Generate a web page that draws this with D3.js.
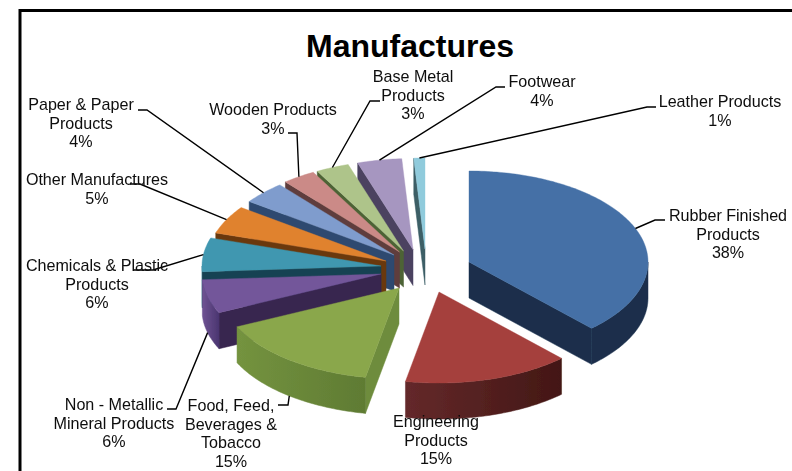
<!DOCTYPE html>
<html>
<head>
<meta charset="utf-8">
<script src="https://cdn.jsdelivr.net/npm/d3@7/dist/d3.min.js"></script>
<style>
html,body{margin:0;padding:0;background:#fff;overflow:hidden}
svg{display:block}
text{font-family:"Liberation Sans",Arial,sans-serif;fill:#0c0c0c}
</style>
</head>
<body>
<div id="chart"></div>
<script>
// ---------- data ----------
const title = "Manufactures";
const categories = [
  ["Rubber Finished","Products"],
  ["Engineering","Products"],
  ["Food, Feed,","Beverages &","Tobacco"],
  ["Non - Metallic","Mineral Products"],
  ["Chemicals & Plastic","Products"],
  ["Other Manufactures"],
  ["Paper & Paper","Products"],
  ["Wooden Products"],
  ["Base Metal","Products"],
  ["Footwear"],
  ["Leather Products"]
];
const shares = [38,15,15,6,6,5,4,3,3,4,1];

// ---------- styles ----------
const topColors  = ["#4470a6","#a53f3c","#8aa74b","#73569a","#3f97b0","#e0822f","#7f9ccd","#cb8a87","#aec48a","#a696c0","#90cbdc"];
const cutColors  = ["#1a2f4c","#4a1b18","#6e8c3c","#38254f","#174253","#6a390f","#2d4a70","#5f3d3c","#4e6336","#4b4360","#3c5e66"];
const wallFrom   = ["#1a2f4c","#64292a","#74933f","#6f5393","#2f7d93","#a55e20","#5c7aa8","#a06a68","#86a063","#7f7199","#6b9fae"];
const wallTo     = ["#1a2f4c","#431715","#5f7b33","#4a3570","#174253","#6a390f","#2d4a70","#5f3d3c","#4e6336","#4b4360","#3c5e66"];

// ---------- layout ----------
const W = 792, H = 471;
const center = [385,262], rx = 179, ry = 91, depth = 36;
// how far each exploded slice is pulled out of the pie centre
const explode = [[84,0],[54,30],[14,26],[-4,12],[-4,4],[1,-1],[9,-7],[14.5,-10],[18.5,-11],[28,-12.5],[40,-13]];
// label block centre x and first baseline
const labelX = [728,436,231,114,97,97,81,273,413,542,720];
const labelY = [221,427,411,410,271,185,110,115,82,87,107];
// leader lines: elbow, then end (none for Engineering)
const leaderElbow = [[655,220],null,[288,405],[176,409],[153,270],[140,184],[147,110],[297,133],[370,101],[496,87],[647,107]];
const leaderEnd   = [[665,220],null,[278,405],[167,409],[133,270],[130,184],[138,110],[288,133],[380,101],[505,87],[656,107]];
const fontSize = 16.1, lineGap = 18.7;

const svg = d3.select("#chart").append("svg").attr("width",W).attr("height",H);
const defs = svg.append("defs");
defs.append("filter").attr("id","softPie").append("feGaussianBlur").attr("stdDeviation",0.5);
defs.append("filter").attr("id","softText").attr("x","-5%").attr("y","-10%").attr("width","110%").attr("height","120%")
    .append("feGaussianBlur").attr("stdDeviation",0.3);

// frame: only top and left rules
svg.append("path").attr("d",`M20,471V10.5H792`).attr("fill","none").attr("stroke","#000").attr("stroke-width",3);

const pie = d3.pie().sort(null).value(d=>d);
const arcs = pie(shares);
const line = d3.line();
const deg = Math.PI/180;

function rim(a,o,dz=0){
  return [center[0]+o[0]+rx*Math.sin(a), center[1]+o[1]-ry*Math.cos(a)+dz];
}
function sweep(a0,a1,o,dz){
  const n = Math.max(2,Math.ceil((a1-a0)/deg));
  return d3.range(n+1).map(i=>rim(a0+(a1-a0)*i/n,o,dz));
}

const g = svg.append("g").attr("filter","url(#softPie)");
// painter's order: back slices first
const order = [10,9,8,7,6,5,4,3,2,0,1];
order.forEach(i=>{
  const d = arcs[i], o = explode[i];
  const apex = [center[0]+o[0],center[1]+o[1]];
  const apexLow = [apex[0],apex[1]+depth];
  const s = g.append("g");
  const cut = a=>{
    const p = rim(a,o), q = rim(a,o,depth);
    s.append("path").attr("d",line([apex,p,q,apexLow])+"Z")
     .attr("fill",cutColors[i]).attr("stroke",cutColors[i]).attr("stroke-width",.5);
  };
  if(d.startAngle>Math.PI) cut(d.startAngle);
  if(d.endAngle<Math.PI) cut(d.endAngle);
  const w0 = Math.max(d.startAngle,Math.PI/2), w1 = Math.min(d.endAngle,3*Math.PI/2);
  if(w1>w0){
    const id = "wall"+i;
    const lg = defs.append("linearGradient").attr("id",id);
    lg.append("stop").attr("offset","0%").attr("stop-color",wallFrom[i]);
    lg.append("stop").attr("offset","100%").attr("stop-color",wallTo[i]);
    const upper = sweep(w0,w1,o,0), lower = sweep(w0,w1,o,depth).reverse();
    s.append("path").attr("d",line(upper.concat(lower))+"Z").attr("fill",`url(#${id})`)
     .attr("stroke",`url(#${id})`).attr("stroke-width",.5);
  }
  const face = [apex].concat(sweep(d.startAngle,d.endAngle,o,0));
  s.append("path").attr("d",line(face)+"Z").attr("fill",topColors[i])
   .attr("stroke",topColors[i]).attr("stroke-width",.4);
});

// leader lines
arcs.forEach((d,i)=>{
  if(!leaderElbow[i]) return;
  const mid = (d.startAngle+d.endAngle)/2;
  const lowerHalf = Math.cos(mid)<0;
  const start = rim(mid,explode[i],lowerHalf?depth:0);
  svg.append("path").attr("d",line([start,leaderElbow[i],leaderEnd[i]]))
     .attr("fill","none").attr("stroke","#000").attr("stroke-width",1.4);
});

// text
svg.append("text").attr("x",410).attr("y",57).attr("text-anchor","middle")
   .attr("font-size",32).attr("font-weight","bold").style("fill","#000").text(title);
arcs.forEach((d,i)=>{
  const lines = categories[i].concat([shares[i]+"%"]);
  const t = svg.append("text").attr("text-anchor","middle").attr("font-size",fontSize)
     .attr("filter","url(#softText)");
  lines.forEach((s,k)=>{
    t.append("tspan").attr("x",labelX[i]).attr("y",labelY[i]+k*lineGap).text(s);
  });
});
</script>
</body>
</html>
